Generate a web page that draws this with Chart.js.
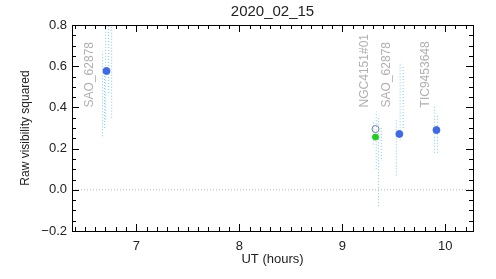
<!DOCTYPE html>
<html>
<head>
<meta charset="utf-8">
<script src="https://cdn.jsdelivr.net/npm/chart.js@4.4.1/dist/chart.umd.min.js"></script>
<style>
  html, body { margin:0; padding:0; background:#fff; }
  #wrap { width:496px; height:279px; }
</style>
</head>
<body>
<div id="wrap"><canvas id="c"></canvas></div>
<script>
// visibility points (UT hours, V^2)
const calX   = [6.71, 9.555, 9.915];
const calY   = [0.577, 0.271, 0.290];
const sciX   = [9.323];
const sciY   = [0.295];
const sciRawX = [9.323];
const sciRawY = [0.256];

// per-channel error bars: x, low, high
const errX  = [6.672, 6.690, 6.702, 6.731, 6.760, 9.302, 9.330, 9.352, 9.380, 9.525, 9.562, 9.592, 9.895, 9.925];
const errLo = [0.26, 0.30, 0.34, 0.47, 0.35, 0.22, 0.10, -0.08, 0.15, 0.07, 0.24, 0.30, 0.18, 0.18];
const errHi = [0.67, 0.58, 0.90, 0.90, 0.90, 0.33, 0.38, 0.35, 0.30, 0.34, 0.62, 0.60, 0.41, 0.37];

// target name annotations
const nameTxt = ['SAO_62878', 'NGC4151#01', 'SAO_62878', 'TIC9453648'];
const nameX   = [6.55, 9.215, 9.43, 9.81];
const nameY   = [0.40, 0.40, 0.40, 0.40];

const xMin = 6.375, xMax = 10.27;
const yMin = -0.2,  yMax = 0.8;
const xTicks = [7, 8, 9, 10];
const yTicks = [-0.2, 0.0, 0.2, 0.4, 0.6, 0.8];

const FONT = 'Liberation Sans, Arial, sans-serif';

const errSets = errX.map((x, i) => ({
  data: [{x, y: errLo[i]}, {x, y: errHi[i]}],
  showLine: true, borderColor: '#7FCBEA', borderWidth: 1, borderDash: [1, 2],
  pointRadius: 0, order: 5,
}));

// IDL-style box with inward ticks, title and name labels
const frame = {
  id: 'frame',
  afterDatasetsDraw(chart) {
    const {ctx, chartArea: a, scales: {x, y}} = chart;
    ctx.save();
    ctx.strokeStyle = '#000'; ctx.lineWidth = 1;
    ctx.strokeRect(Math.round(a.left) + .5, Math.round(a.top) + .5, Math.round(a.right - a.left), Math.round(a.bottom - a.top));
    ctx.beginPath();
    for (let v = Math.ceil(xMin * 10); v <= xMax * 10; v++) {
      const px = Math.round(x.getPixelForValue(v / 10)) + .5;
      const len = v % 10 === 0 ? 7 : 4;
      ctx.moveTo(px, a.bottom); ctx.lineTo(px, a.bottom - len);
      ctx.moveTo(px, a.top); ctx.lineTo(px, a.top + len);
    }
    for (let v = Math.ceil(yMin * 20); v <= yMax * 20; v++) {
      const py = Math.round(y.getPixelForValue(v / 20)) + .5;
      const len = v % 4 === 0 ? 7 : 4;
      ctx.moveTo(a.left, py); ctx.lineTo(a.left + len, py);
      ctx.moveTo(a.right, py); ctx.lineTo(a.right - len, py);
    }
    ctx.stroke();

    ctx.fillStyle = '#222';
    ctx.font = '15px ' + FONT;
    ctx.textAlign = 'center'; ctx.textBaseline = 'middle';
    ctx.fillText('2020_02_15', (a.left + a.right) / 2, 12);

    ctx.fillStyle = '#B0B0B0';
    ctx.font = '12px ' + FONT;
    ctx.textAlign = 'left';
    nameTxt.forEach((t, i) => {
      ctx.save();
      ctx.translate(x.getPixelForValue(nameX[i]), y.getPixelForValue(nameY[i]));
      ctx.rotate(-Math.PI / 2);
      ctx.fillText(t, 0, 0);
      ctx.restore();
    });
    ctx.restore();
  }
};

new Chart(document.getElementById('c'), {
  type: 'scatter',
  data: { datasets: [
    { data: calX.map((x, i) => ({x, y: calY[i]})), pointRadius: 3.5, pointBackgroundColor: '#4169E1', pointBorderColor: '#4169E1', pointBorderWidth: 1, order: 1 },
    { data: sciRawX.map((x, i) => ({x, y: sciRawY[i]})), pointRadius: 3, pointBackgroundColor: '#22CC22', pointBorderColor: '#22CC22', pointBorderWidth: 1, order: 2 },
    { data: sciX.map((x, i) => ({x, y: sciY[i]})), pointRadius: 3.5, pointBackgroundColor: 'rgba(0,0,0,0)', pointBorderColor: '#7080B0', pointBorderWidth: 1, order: 3 },
    { data: [{x: xMin, y: 0}, {x: xMax, y: 0}], showLine: true, borderColor: '#BBB', borderWidth: 1, borderDash: [1, 2], pointRadius: 0, order: 6 },
    ...errSets,
  ]},
  options: {
    responsive: true, maintainAspectRatio: false, animation: false,
    layout: { padding: { top: 25, right: 23, left: 0, bottom: 0 } },
    plugins: { legend: { display: false }, tooltip: { enabled: false } },
    scales: {
      x: {
        min: xMin, max: xMax,
        afterFit: s => { s.height = 48; },
        afterBuildTicks: s => { s.ticks = xTicks.map(v => ({value: v})); },
        grid: { display: false, drawTicks: false }, border: { display: false },
        ticks: { color: '#222', font: { size: 13, family: FONT }, padding: 8, maxRotation: 0, callback: v => String(v) },
        title: { display: true, text: 'UT (hours)', color: '#222', font: { size: 13, family: FONT }, padding: { top: 2, bottom: 12 } },
      },
      y: {
        min: yMin, max: yMax,
        afterFit: s => { s.width = 72; },
        afterBuildTicks: s => { s.ticks = yTicks.map(v => ({value: v})); },
        grid: { display: false, drawTicks: false }, border: { display: false },
        ticks: { color: '#222', font: { size: 13, family: FONT }, padding: 5,
                 callback: v => (v < -1e-9 ? '\u2212' : '') + Math.abs(v).toFixed(1) },
        title: { display: true, text: 'Raw visibility squared', color: '#222', font: { size: 12, family: FONT }, padding: { top: 18, bottom: 0 } },
      },
    },
  },
  plugins: [frame],
});
</script>
</body>
</html>
